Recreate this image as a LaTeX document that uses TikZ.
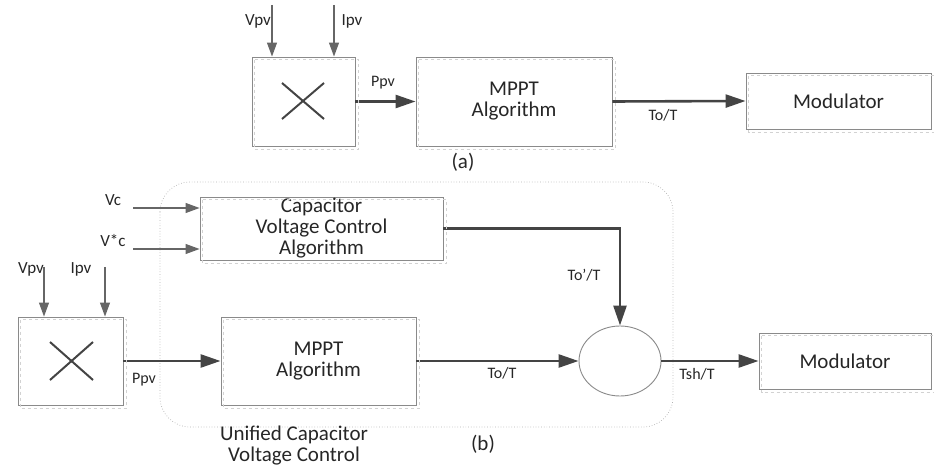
\documentclass[tikz,border=0pt]{standalone}
\usepackage{fontspec}
\setmainfont{Carlito}
\usetikzlibrary{arrows.meta,shapes.geometric}
\definecolor{boxgray}{HTML}{8A8A8A}
\definecolor{arrgray}{HTML}{444444}
\definecolor{ingray}{HTML}{666666}
\begin{document}
\begin{tikzpicture}[x=1pt,y=-1pt,
  blk/.style={draw=boxgray,line width=0.9pt,rectangle,inner sep=0pt,align=center,
    font=\fontsize{21}{21}\selectfont,text=black!85},
  shadowline/.style={draw=gray!35,dashed,line width=0.5pt},
  mainarr/.style={draw=arrgray,line width=2.6pt,-{Triangle[length=20pt,width=13pt]}},
  inarr/.style={draw=ingray,line width=1.1pt,-{Triangle[length=14pt,width=10pt]}},
  lbl/.style={font=\fontsize{16}{17}\selectfont,text=black!85,inner sep=0pt},
  inlbl/.style={font=\fontsize{17}{18}\selectfont,text=black!85,inner sep=0pt},
  big/.style={font=\fontsize{21}{21}\selectfont,text=black!85,inner sep=0pt,align=center},
  crossline/.style={draw=arrgray,line width=2pt}
]
\useasboundingbox (0,0) rectangle (934,470);
% container
\draw[draw=gray!60,dotted,line width=0.7pt,rounded corners=30pt] (160,182) rectangle (673,427);
% ---------- (a) ----------
\node[blk,minimum width=103pt,minimum height=89pt] (xa) at (303.5,101.5) {};
\node[blk,minimum width=196pt,minimum height=89pt] (mppta) at (514,101.5) {MPPT\\Algorithm};
\node[blk,minimum width=185pt,minimum height=56pt] (moda) at (838.5,101) {Modulator};
\draw[crossline] (282,83) -- (324,119) (282,119) -- (324,83);
\coordinate (va) at (272,5);
\coordinate (ia) at (334,5);
\draw[inarr] (va) -- (va |- xa.north);
\draw[inarr] (ia) -- (ia |- xa.north);
\node[inlbl] (vpva) at (258,21) {Vpv};
\node[inlbl] (ipva) at (352,21) {Ipv};
\draw[mainarr] (xa.east) -- (mppta.west);
\node[lbl] (ppva) at (383,83) {Ppv};
\draw[mainarr] (mppta.east) -- (moda.west);
\node[lbl] (toa) at (663,115) {To/T};
\node[big] (capa) at (463,162) {(a)};
% ---------- (b) ----------
\node[blk,minimum width=243pt,minimum height=63pt] (caps) at (321.5,228.5) {Capacitor\\Voltage Control\\Algorithm};
\node[blk,minimum width=105pt,minimum height=88pt] (xb) at (70.5,361) {};
\node[blk,minimum width=195pt,minimum height=88pt] (mpptb) at (318.5,361) {MPPT\\Algorithm};
\node[draw=boxgray,line width=0.9pt,ellipse,minimum width=82pt,minimum height=70pt,inner sep=0pt] (circ) at (620,361) {};
\node[blk,minimum width=172pt,minimum height=56pt] (modb) at (845,361) {Modulator};
\draw[crossline] (50,342) -- (93,380) (50,380) -- (93,342);
\coordinate (vb) at (44,267);
\coordinate (ib) at (105,267);
\draw[inarr] (vb) -- (vb |- xb.north);
\draw[inarr] (ib) -- (ib |- xb.north);
\node[inlbl] (vpvb) at (31,269) {Vpv};
\node[inlbl] (ipvb) at (81,269) {Ipv};
\coordinate (vc) at (133,208);
\coordinate (vsc) at (133,249);
\draw[inarr] (vc) -- (vc -| caps.west);
\draw[inarr] (vsc) -- (vsc -| caps.west);
\node[inlbl] (vcl) at (113,200) {Vc};
\node[inlbl] (vscl) at (113,241) {V*c};
\draw[mainarr] (xb.east) -- (mpptb.west);
\node[lbl] (ppvb) at (144,380) {Ppv};
\draw[mainarr] (caps.east) -| (circ.north);
\node[lbl] (topl) at (584,275) {To’/T};
\draw[mainarr] (mpptb.east) -- (circ.west);
\node[lbl] (tob) at (502,373) {To/T};
\draw[mainarr] (circ.east) -- (modb.west);
\node[lbl] (tsh) at (697,374) {Tsh/T};
\node[big] (capb) at (483,444) {(b)};
\node[big] (ucvc) at (294,446) {Unified Capacitor\\Voltage Control};
% shadow dashed lines
\foreach \n in {xa,mppta,moda,caps,xb,mpptb,modb}
  \draw[shadowline] ([shift={(3pt,-3pt)}]\n.north west) rectangle ([shift={(3pt,-3pt)}]\n.south east);
\end{tikzpicture}
\end{document}
